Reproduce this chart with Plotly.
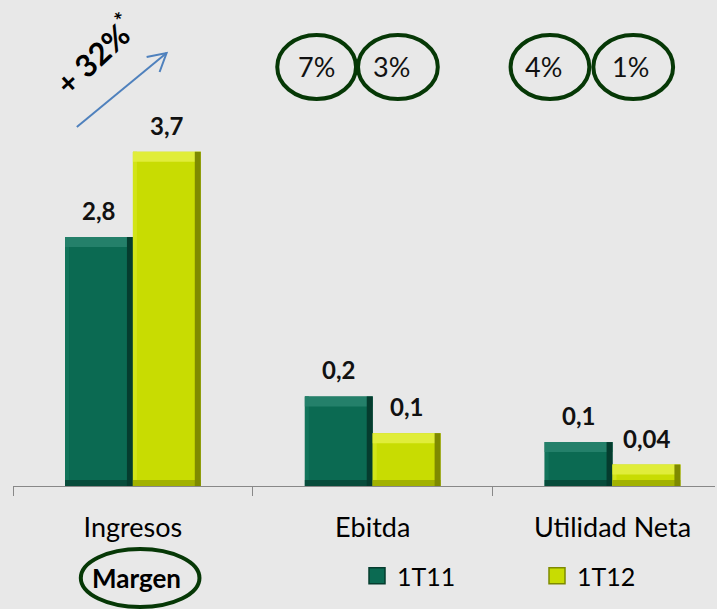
import plotly.graph_objects as go

# ---------------- data ----------------
categories = ["Ingresos", "Ebitda", "Utilidad Neta"]
series_names = ["1T11", "1T12"]
# bar heights as drawn in the picture (display units)
heights_1T11 = [2.78, 1.00, 0.49]
heights_1T12 = [3.73, 0.59, 0.24]
# value labels printed above the bars
labels_1T11 = ["2,8", "0,2", "0,1"]
labels_1T12 = ["3,7", "0,1", "0,04"]
# margins (Ebitda, Utilidad Neta)
margin_labels_1T11 = ["7%", "4%"]
margin_labels_1T12 = ["3%", "1%"]
growth_label = "+ 32%"

# ---------------- style ----------------
W, H = 717, 609
ML, MR, MT, MB = 13, 0, 0, 123
PLOT_W = W - ML - MR
PLOT_H = H - MT - MB
CAT_PX = 240.5
PX_PER_UNIT = 89.6
BG = "#e8e8e8"
RING = "#063806"
FONT = "Lato"

def px(xp):
    return (xp - ML) / PLOT_W

def py(yp):
    return (H - MB - yp) / PLOT_H

BAR_W = 0.283
BEV_TOP = 10 / PX_PER_UNIT
BEV_BOT = 6 / PX_PER_UNIT
BEV_L = 4 / CAT_PX
BEV_R = 6 / CAT_PX

palette = {
    "1T11": dict(face="#0b6a52", top="#24806a", left="#12745b", right="#053c2e", bottom="#074c3b"),
    "1T12": dict(face="#c8dc02", top="#e0ed3a", left="#d2e418", right="#7e8a00", bottom="#a2b200"),
}

fig = go.Figure()
for name, heights, off in ((series_names[0], heights_1T11, -BAR_W), (series_names[1], heights_1T12, 0.0)):
    c = palette[name]
    fig.add_trace(go.Bar(name=name, x=categories, y=heights, width=BAR_W, offset=off,
                         marker=dict(color=c["face"], line=dict(width=0)), showlegend=False))
    # bevel bands (left, bottom, top, right)
    fig.add_trace(go.Bar(x=categories, y=heights, width=BEV_L, offset=off,
                         marker=dict(color=c["left"], line=dict(width=0)),
                         showlegend=False, hoverinfo="skip"))
    fig.add_trace(go.Bar(x=categories, y=[BEV_BOT] * len(heights), width=BAR_W, offset=off,
                         marker=dict(color=c["bottom"], line=dict(width=0)),
                         showlegend=False, hoverinfo="skip"))
    fig.add_trace(go.Bar(x=categories, y=[BEV_TOP] * len(heights), base=[h - BEV_TOP for h in heights],
                         width=BAR_W, offset=off,
                         marker=dict(color=c["top"], line=dict(width=0)),
                         showlegend=False, hoverinfo="skip"))
    fig.add_trace(go.Bar(x=categories, y=heights, width=BEV_R, offset=off + BAR_W - BEV_R,
                         marker=dict(color=c["right"], line=dict(width=0)),
                         showlegend=False, hoverinfo="skip"))
    # legend entry
    fig.add_trace(go.Scatter(name=name, x=[None], y=[None], mode="markers",
                             marker=dict(symbol="square", size=16, color=c["face"],
                                         line=dict(color=c["right"], width=1.5))))

annotations = []
for heights, labels, off in ((heights_1T11, labels_1T11, -BAR_W / 2), (heights_1T12, labels_1T12, BAR_W / 2)):
    for i, (h, t) in enumerate(zip(heights, labels)):
        annotations.append(dict(x=i + off, y=h, xref="x", yref="y", text="<b>%s</b>" % t,
                                showarrow=False, xanchor="center", yanchor="bottom", yshift=10,
                                font=dict(family=FONT, size=24, color="#111")))

# margin ellipses with their labels
ring_boxes = [
    (278, 357, margin_labels_1T11[0], 317.5),
    (359, 439, margin_labels_1T12[0], 393),
    (512, 591, margin_labels_1T11[1], 545),
    (595, 675, margin_labels_1T12[1], 632),
]
shapes = []
for x0, x1, lab, tx in ring_boxes:
    shapes.append(dict(type="circle", xref="paper", yref="paper",
                       x0=px(x0), x1=px(x1), y0=py(99), y1=py(35),
                       line=dict(color=RING, width=4)))
    annotations.append(dict(x=px(tx), y=py(66), xref="paper", yref="paper", text=lab,
                            showarrow=False, xanchor="center", yanchor="middle",
                            font=dict(family=FONT, size=27, color="#111")))

# "Margen" ring
shapes.append(dict(type="circle", xref="paper", yref="paper",
                   x0=px(81), x1=px(200), y0=py(607), y1=py(549),
                   line=dict(color=RING, width=4)))
annotations.append(dict(x=px(137), y=py(578), xref="paper", yref="paper", text="<b>Margen</b>",
                        showarrow=False, xanchor="center", yanchor="middle",
                        font=dict(family=FONT, size=26, color="#000")))

# growth arrow
ARROW = "#4f81bd"
shapes.append(dict(type="line", xref="paper", yref="paper",
                   x0=px(77), y0=py(127), x1=px(167), y1=py(53),
                   line=dict(color=ARROW, width=2)))
shapes.append(dict(type="path", xref="paper", yref="paper",
                   path="M %f %f L %f %f L %f %f" % (px(147), py(57), px(167), py(53), px(160), py(72)),
                   line=dict(color=ARROW, width=2)))
annotations.append(dict(x=px(95), y=py(55), xref="paper", yref="paper",
                        text="<b>%s</b><sup><b>*</b></sup>" % growth_label,
                        textangle=-43,
                        showarrow=False, xanchor="center", yanchor="middle",
                        font=dict(family=FONT, size=31, color="#000")))

fig.update_layout(
    width=W, height=H,
    margin=dict(l=ML, r=MR, t=MT, b=MB),
    paper_bgcolor=BG, plot_bgcolor=BG,
    barmode="overlay",
    showlegend=True,
    legend=dict(orientation="h", x=px(358), y=py(576), xanchor="left", yanchor="middle",
                font=dict(family=FONT, size=25, color="#000"),
                entrywidth=135, entrywidthmode="pixels", bgcolor="rgba(0,0,0,0)",
                itemclick=False, itemdoubleclick=False),
    annotations=annotations, shapes=shapes,
    xaxis=dict(range=[-0.5, -0.5 + PLOT_W / CAT_PX], showgrid=False, zeroline=False,
               showline=True, linecolor="#888888", linewidth=1,
               ticks="outside", tickson="boundaries", ticklen=9, tickcolor="#888888",
               ticklabelstandoff=18,
               tickfont=dict(family=FONT, size=27, color="#000")),
    yaxis=dict(range=[0, PLOT_H / PX_PER_UNIT], visible=False, showgrid=False, zeroline=False),
    font=dict(family=FONT),
)

fig.write_html("out.html", config={"displayModeBar": False},
               post_script="document.body.style.margin='0';")
